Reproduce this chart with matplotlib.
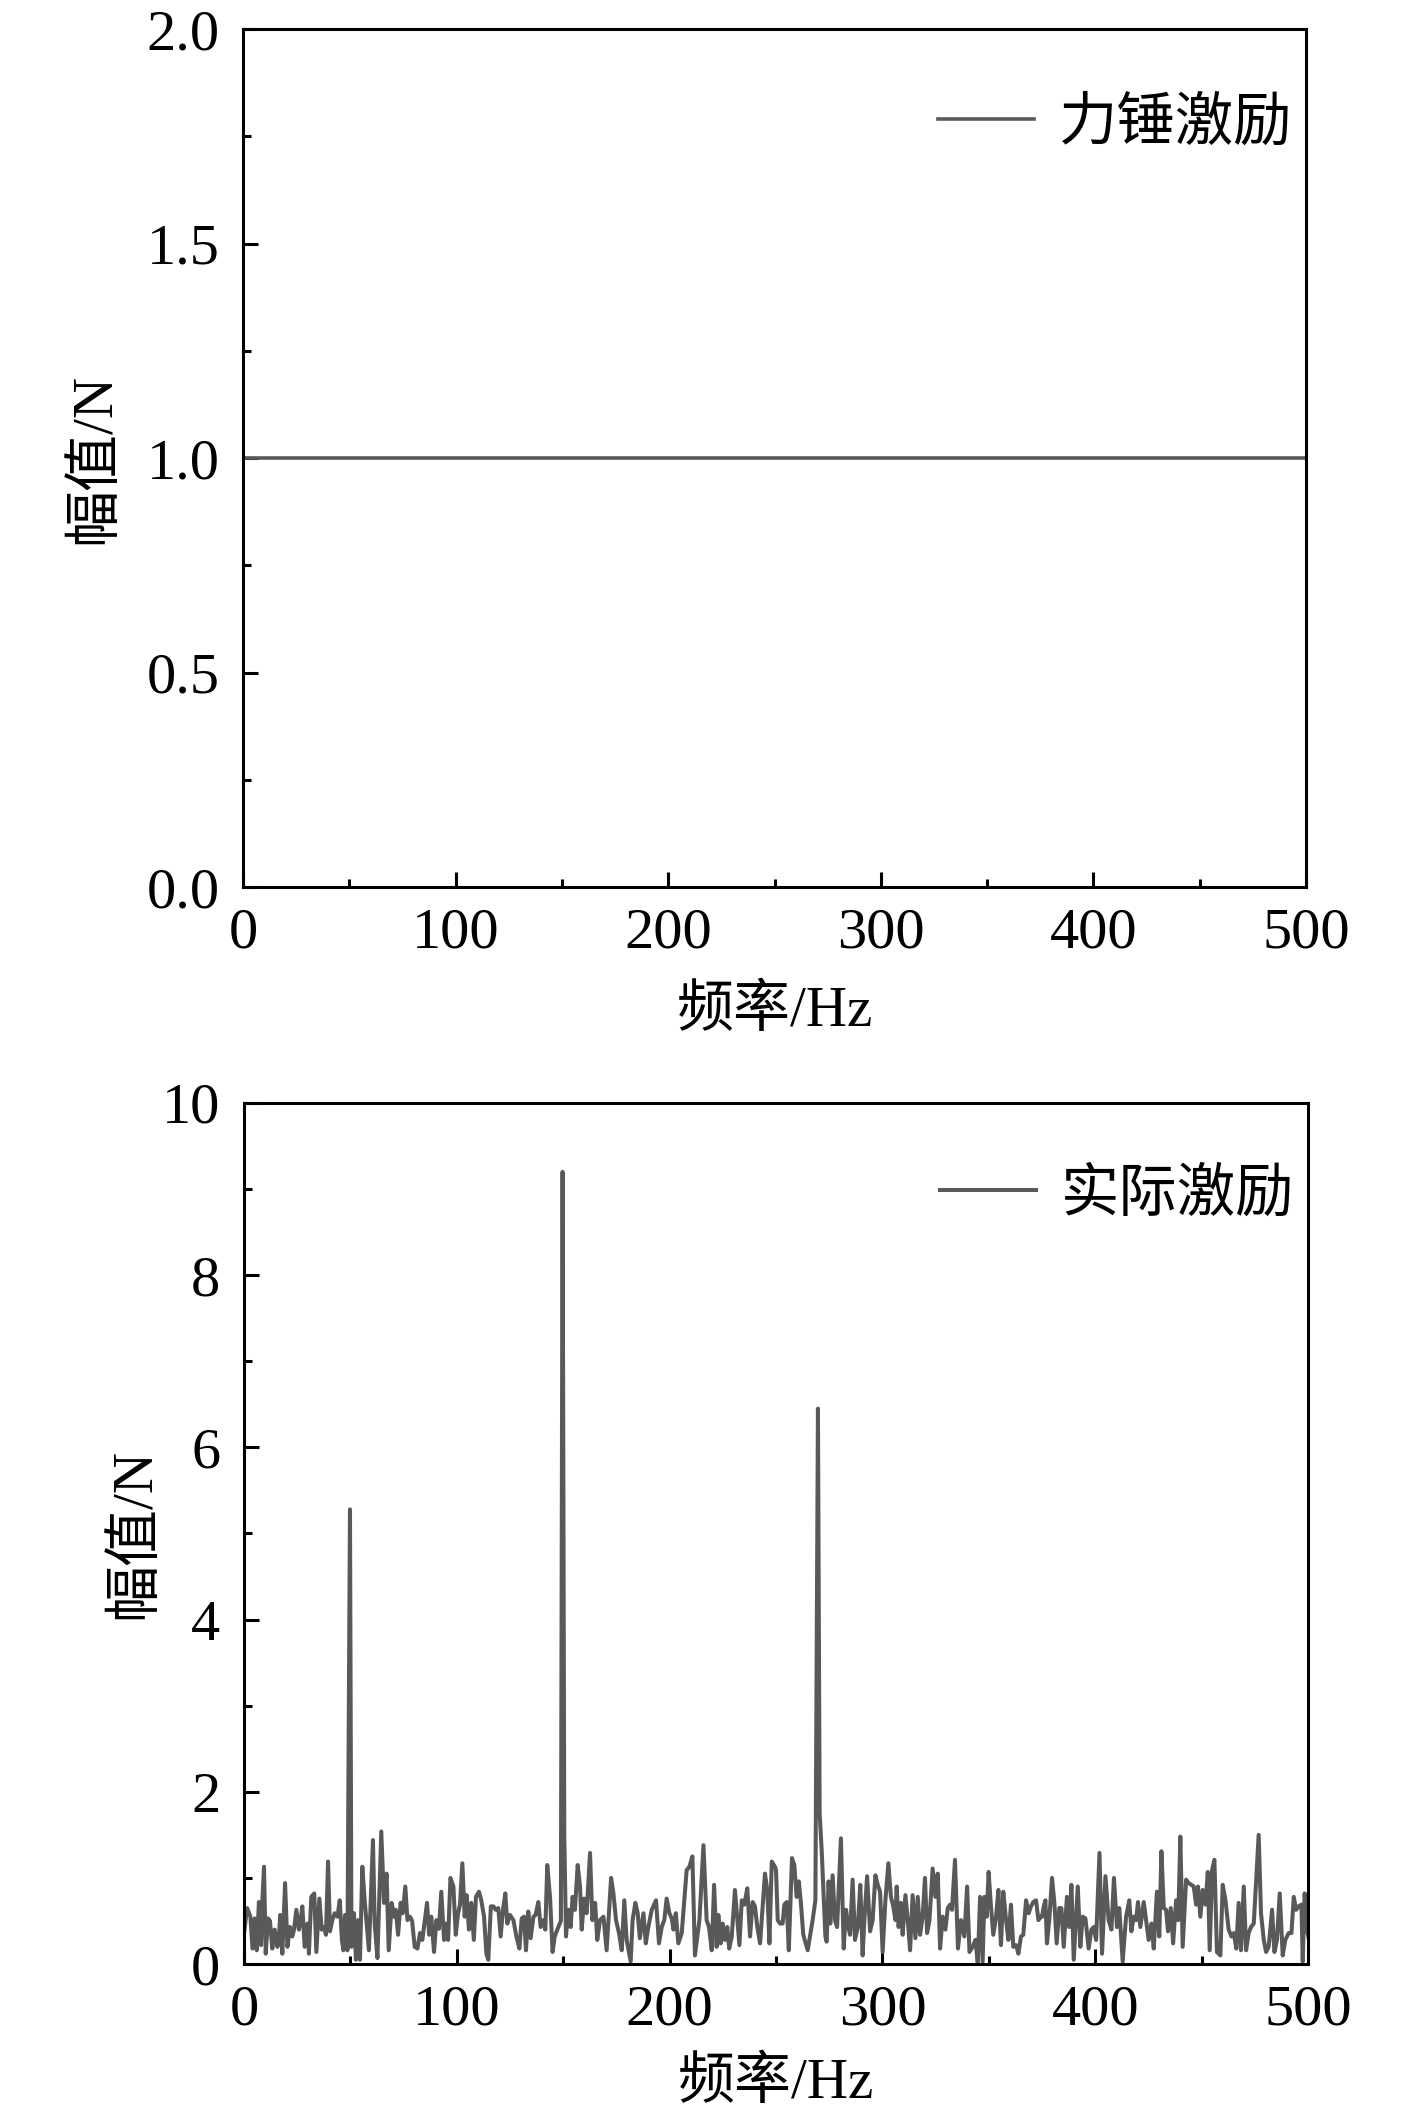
import numpy as np
import matplotlib.pyplot as plt
from matplotlib.ticker import MultipleLocator

plt.rcParams['font.family'] = ['Liberation Serif', 'Noto Sans CJK SC']
plt.rcParams['axes.unicode_minus'] = False

# top panel: hammer excitation, flat spectrum
hammer_freq = [0, 500]
hammer_amp = [1.0, 1.0]

freq_a = [0, 1.5, 3, 4, 5, 6, 7, 8, 8.6, 9.4, 10.2, 11.3, 12.2, 13.3, 14.4, 15.7, 16.5,
          17, 18, 19.3, 20.4, 21.6, 22.7, 23.5, 24.6, 25.8, 26.6, 27.4, 28.5, 29.8,
          30.5, 31.6, 33, 34, 35.4, 36.5, 37.6, 38.5, 39.5, 40.4, 41.5, 42.6, 43.9,
          45, 46, 46.7, 47.5, 48.6, 49.8, 50.5, 51.7, 52.6, 53.7, 54.5, 55.6, 56.7,
          58.7, 60.6, 61.4, 62.7, 64.5, 65.8, 67, 68, 69.4, 70.5, 71.3, 72.4, 73.6,
          74.6, 75.8, 76.8, 78, 79, 80.2, 81.5, 82.7, 83.8, 85, 86, 87, 88, 89.3,
          90.4, 91.6, 92.7, 94, 94.8, 95.9, 97, 98.4, 99.5, 100.6, 101.5, 102.6,
          103.7, 104.6, 105.7, 106.8, 108, 109, 110.4, 111.5, 112.8, 113.9, 114.8,
          116, 117.2, 118.3, 119.5, 120.6, 121.7, 122.8, 123.7]
amp_a = [0.36, 0.65, 0.55, 0.18, 0.53, 0.16, 0.72, 0.22, 0.72, 1.13, 0.12, 0.53, 0.5,
         0.18, 0.4, 0.2, 0.35, 0.57, 0.12, 0.94, 0.2, 0.43, 0.32, 0.4, 0.63, 0.4,
         0.5, 0.67, 0.2, 0.47, 0.12, 0.78, 0.82, 0.14, 0.76, 0.4, 0.43, 0.34, 1.19,
         0.38, 0.51, 0.59, 0.55, 0.74, 0.28, 0.16, 0.57, 0.16, 5.28, 0.2, 0.59, 0.05,
         0.51, 0.05, 1.13, 0.74, 0.16, 1.44, 0.47, 0.07, 1.54, 0.71, 1.05, 0.16, 0.71,
         0.55, 0.63, 0.34, 0.71, 0.59, 0.9, 0.51, 0.55, 0.5, 0.2, 0.18, 0.36, 0.28,
         0.51, 0.71, 0.34, 0.55, 0.14, 0.51, 0.41, 0.84, 0.28, 0.47, 0.28, 1.0, 0.9,
         0.34, 0.59, 0.69, 1.17, 0.55, 0.8, 0.4, 0.71, 0.28, 0.78, 0.84, 0.74, 0.55,
         0.12, 0.05, 0.67, 0.67, 0.63, 0.65, 0.32, 0.63, 0.82, 0.47]

freq_b = [125, 126.6, 128, 129.4, 130.5, 131.6, 132.5, 133.6, 134.7, 136, 137, 138.3,
          139.4, 140.7, 141.6, 142.5, 143.8, 145, 146, 147.7, 148.9, 149.7, 150.5,
          151.3, 152.4, 153.5, 154.4, 155.5, 156.8, 157.9, 158.7, 159.8, 161, 162.6,
          163.7, 165, 166, 167.3, 168.9, 170.4, 172.5, 173.6, 174.8, 176.2, 177.5,
          178.7, 179.8, 181.7, 182.6, 183.9, 185, 186, 187.7, 188.8, 190, 191.6,
          193.6, 195, 196.3, 197.5, 198.6, 199.9, 201, 201.8, 202.9, 204.1, 205.7,
          208, 209.3, 210.7, 211.9, 214, 215.9, 217.4, 218.5, 219.8, 220.9, 222.1,
          222.9, 224, 224.9, 226, 227.1, 228, 229.2, 230.7, 232.8, 233.9, 235.1,
          236.5, 237.8, 239, 240.1, 241.2, 242.5, 244.8, 245.9, 246.9, 248, 249.5]
amp_b = [0.57, 0.51, 0.32, 0.18, 0.53, 0.55, 0.16, 0.61, 0.3, 0.55, 0.57, 0.72, 0.43,
         0.51, 0.4, 1.15, 0.78, 0.14, 0.32, 0.43, 0.5, 9.2, 1.5, 0.32, 0.63, 0.43,
         0.78, 0.63, 1.15, 0.9, 0.4, 0.76, 0.59, 1.29, 0.51, 0.71, 0.28, 0.51, 0.55,
         0.16, 1.0, 0.82, 0.51, 0.36, 0.16, 0.74, 0.28, 0.03, 0.51, 0.71, 0.59, 0.3,
         0.59, 0.24, 0.43, 0.63, 0.74, 0.24, 0.43, 0.51, 0.76, 0.59, 0.53, 0.4, 0.59,
         0.24, 0.36, 1.09, 1.13, 1.25, 0.1, 0.51, 1.38, 0.51, 0.43, 0.16, 0.92, 0.2,
         0.57, 0.24, 0.47, 0.28, 0.43, 0.18, 0.32, 0.86, 0.22, 0.74, 0.69, 0.88, 0.32,
         0.72, 0.67, 0.43, 0.24, 1.05, 0.86, 0.24, 1.19, 1.13]

freq_c = [250, 250.8, 251.9, 253.1, 253.9, 255, 256, 257.5, 258.6, 259.7, 260.7, 261.7,
          262.8, 264.9, 267.2, 268.5, 269.7, 270.5, 271.5, 273.2, 273.8, 274.7, 275.5,
          276.6, 277.7, 278.7, 280.5, 281.8, 282.9, 284, 284.8, 286, 287.1, 288.4,
          289.6, 290.7, 291.5, 292.8, 294.2, 295.4, 296.7, 297.8, 298.9, 300.1, 301.4,
          302.8, 304, 305.1, 306.1, 306.7, 307.6, 308.7, 309.5, 310.8, 311.9, 313,
          314.2, 315.5, 316.6, 317.7, 318.9, 320, 321, 322.1, 323.6, 324.9, 326,
          327.1, 328.3, 329.6, 330.7, 331.8, 332.7, 334.1, 335.5, 336.9, 338.5, 339.8,
          340.9, 342.4, 343.7, 344.8, 345.9, 347.1, 347.9, 349, 349.9, 351, 352.1,
          353.4, 354.5, 355.7, 356.8, 358.1, 359.2, 360.4, 361.5, 362.8, 363.9, 365.1,
          366.2, 367.5, 368.7, 369.8, 370.9, 372.2, 373.3, 374.5]
amp_c = [1.09, 0.51, 0.47, 0.47, 0.69, 0.72, 0.16, 1.23, 1.15, 0.78, 0.96, 0.71, 0.34,
         0.16, 0.51, 0.74, 6.45, 1.75, 1.3, 0.32, 0.26, 0.96, 0.47, 1.03, 0.51, 0.43,
         1.46, 0.18, 0.63, 0.43, 0.34, 0.98, 0.28, 0.43, 0.92, 0.1, 0.51, 1.02, 0.38,
         0.51, 1.03, 0.92, 0.84, 0.14, 0.74, 1.17, 0.78, 0.67, 0.51, 0.9, 0.43, 0.71,
         0.34, 0.8, 0.51, 0.16, 0.8, 0.3, 0.78, 0.34, 0.55, 1.0, 0.36, 0.51, 1.11,
         0.78, 1.05, 0.18, 0.55, 0.4, 0.65, 0.69, 0.63, 1.21, 0.18, 0.51, 0.32, 0.9,
         0.14, 0.2, 0.28, 0.01, 0.78, 0.03, 0.78, 0.55, 1.07, 0.67, 0.34, 0.55, 0.86,
         0.22, 0.84, 0.51, 0.28, 0.69, 0.2, 0.22, 0.12, 0.32, 0.34, 0.74, 0.59, 0.67,
         0.72, 0.74, 0.51, 0.55]

freq_d = [375, 375.8, 376.6, 377.3, 378.4, 379.7, 380.8, 381.9, 383.1, 384.1, 385.2,
          386.7, 387.8, 388.8, 389.9, 391.8, 393, 394.1, 395.4, 396.9, 398.2, 399.3,
          400.4, 402, 403.2, 404.8, 406.3, 407.6, 408.8, 410.2, 411.3, 412.9, 414.5,
          416, 417, 418.1, 419.2, 420.1, 421.2, 422.8, 423.9, 425.1, 426.4, 427.5,
          429, 430.1, 431.1, 432.2, 433.3, 434.2, 435.5, 436.6, 438, 439, 440, 441.1,
          442.7, 443.9, 445.2, 446.3, 447.4, 448.3, 449.4, 450.5, 451.8, 452.9, 453.8,
          454.9, 456, 457.2, 458.8, 459.9, 461.2, 462.7, 464, 465.1, 466.3, 467.4,
          468.5, 469.8, 470.9, 472.1, 473.2, 474.5, 475.7, 476.8, 477.9, 479.2, 480.3,
          481.5, 483.1, 484.2, 485.4, 486.7, 488.1, 489.3, 490.9, 492.2, 493.3, 494.4,
          495.6, 496.9, 497.5, 498.4, 499.5, 500.3]
amp_d = [0.55, 0.67, 0.74, 0.24, 0.51, 1.0, 0.71, 0.24, 0.65, 0.65, 0.2, 0.78, 0.43,
         0.92, 0.05, 0.9, 0.2, 0.55, 0.53, 0.18, 0.4, 0.43, 0.28, 1.29, 0.12, 1.02,
         0.51, 0.4, 1.0, 0.43, 0.65, 0.03, 0.55, 0.74, 0.38, 0.55, 0.51, 0.72, 0.43,
         0.72, 0.51, 0.28, 0.47, 0.18, 0.84, 0.32, 1.31, 0.65, 0.63, 0.38, 0.65, 0.24,
         0.74, 0.51, 1.48, 0.2, 0.98, 0.94, 0.92, 0.9, 0.69, 0.9, 0.55, 0.86, 0.69,
         1.07, 0.16, 1.09, 1.21, 0.14, 0.1, 0.92, 0.74, 0.4, 0.32, 0.36, 0.18, 0.71,
         0.16, 0.9, 0.16, 0.36, 0.43, 0.47, 1.0, 1.5, 0.59, 0.28, 0.14, 0.2, 0.63,
         0.14, 0.28, 0.82, 0.1, 0.28, 0.36, 0.36, 0.78, 0.63, 0.67, 0.69, 0.03, 0.82,
         0.4, 0.3]

actual_freq = freq_a + freq_b + freq_c + freq_d
actual_amp = amp_a + amp_b + amp_c + amp_d

line_color = "#595959"
tick_font = 42
label_font = 41

fig = plt.figure(figsize=(14.17, 21.21), dpi=100)
ax1 = fig.add_axes([0.1715, 0.5818, 0.7502, 0.4045])
ax2 = fig.add_axes([0.1722, 0.0740, 0.7509, 0.4060])


def style_axes(ax, ymax, ymajor, yminor, fmt, xlabelpad, ylabel_x):
    ax.set_xlim(0, 500)
    ax.set_ylim(0, ymax)
    ax.xaxis.set_major_locator(MultipleLocator(100))
    ax.xaxis.set_minor_locator(MultipleLocator(50))
    ax.yaxis.set_major_locator(MultipleLocator(ymajor))
    ax.yaxis.set_minor_locator(MultipleLocator(yminor))
    ax.yaxis.set_major_formatter(fmt)
    ax.tick_params(which="both", direction="in", top=False, right=False,
                   width=2.2, labelsize=tick_font)
    ax.tick_params(which="major", length=11)
    ax.tick_params(axis="x", which="major", pad=15)
    ax.tick_params(axis="y", which="major", pad=17)
    ax.tick_params(which="minor", length=5.5)
    for s in ax.spines.values():
        s.set_linewidth(2.2)
    ax.set_xlabel("频率/Hz", fontsize=label_font, labelpad=xlabelpad)
    ax.set_ylabel("幅值/N", fontsize=label_font)
    ax.yaxis.set_label_coords(ylabel_x, 0.5)


ax1.plot(hammer_freq, hammer_amp, color=line_color, linewidth=2.6, label="力锤激励")
style_axes(ax1, 2.0, 0.5, 0.25, "{x:.1f}", 18, -0.115)
ax1.legend(loc="upper right", frameon=False, fontsize=42,
           handlelength=1.65, handletextpad=0.42, borderaxespad=0.15,
           bbox_to_anchor=(1.017, 0.958))

ax2.plot(actual_freq, actual_amp, color=line_color, linewidth=2.9, label="实际激励")
style_axes(ax2, 10, 2, 1, "{x:.0f}", 14, -0.078)
ax2.legend(loc="upper right", frameon=False, fontsize=42,
           handlelength=1.65, handletextpad=0.42, borderaxespad=0.15,
           bbox_to_anchor=(1.017, 0.962))

fig.savefig("out.png", dpi=100)
